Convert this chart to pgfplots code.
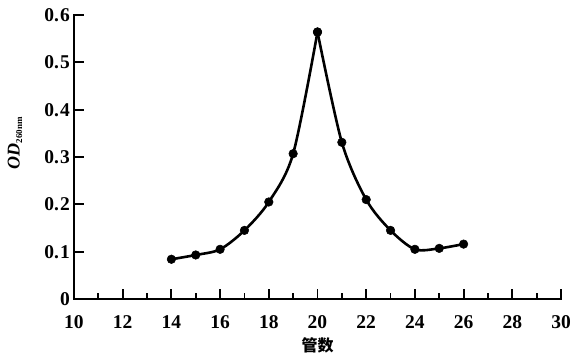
\documentclass[border=0pt]{standalone}
\usepackage{pgfplots}
\pgfplotsset{compat=1.18}
\usepackage{fontspec}
\setmainfont{Liberation Serif}
\newfontfamily\cjk{Noto Sans CJK SC}
\begin{document}
\begin{tikzpicture}
\useasboundingbox (-74pt,-58pt) rectangle (502pt,299pt);
\begin{axis}[
  at={(0pt,0pt)}, anchor=south west,
  scale only axis,
  width=487pt, height=284pt,
  xmin=10, xmax=30, ymin=0, ymax=0.6,
  axis x line*=bottom, axis y line*=left,
  axis line style={line width=2.8pt, line cap=rect},
  xtick={10,12,...,30},
  minor x tick num=1,
  ytick={0,0.1,...,0.6},
  yticklabels={0,0.\kern1pt1,0.\kern1pt2,0.\kern1pt3,0.\kern1pt4,0.\kern1pt5,0.\kern1pt6},
  tick align=inside,
  major tick length=10pt, minor tick length=6pt,
  every tick/.style={black, line width=1.8pt},
  /pgf/number format/assume math mode=true,
  tick label style={font=\fontsize{19.5}{21}\selectfont\bfseries, inner sep=0pt},
  xticklabel style={anchor=center, yshift=-23pt},
  yticklabel style={anchor=east, xshift=-4pt},
  xlabel={\cjk\bfseries 管数},
  xlabel style={font=\fontsize{16}{18}\selectfont, at={(axis description cs:0.5,0)}, anchor=center, yshift=-46pt},
  ylabel={\bfseries\itshape OD\textsubscript{\upshape\fontsize{9}{10}\selectfont 260nm}},
  ylabel style={font=\fontsize{18}{20}\selectfont, at={(axis description cs:0,0.55)}, anchor=center, yshift=59pt},
  clip=false,
]
\addplot[black, line width=2.6pt, smooth, tension=0.5, mark=*, mark size=4.3pt,
  mark options={solid, fill=black, line width=0.5pt}] coordinates {
  (14,0.084) (15,0.093) (16,0.105) (17,0.145) (18,0.205) (19,0.307) (20,0.564)
};
\addplot[black, line width=2.6pt, smooth, tension=0.5, mark=*, mark size=4.3pt,
  mark options={solid, fill=black, line width=0.5pt}] coordinates {
  (20,0.564) (21,0.331) (22,0.210) (23,0.145) (24,0.105) (25,0.107) (26,0.116)
};
\end{axis}
\end{tikzpicture}
\end{document}
